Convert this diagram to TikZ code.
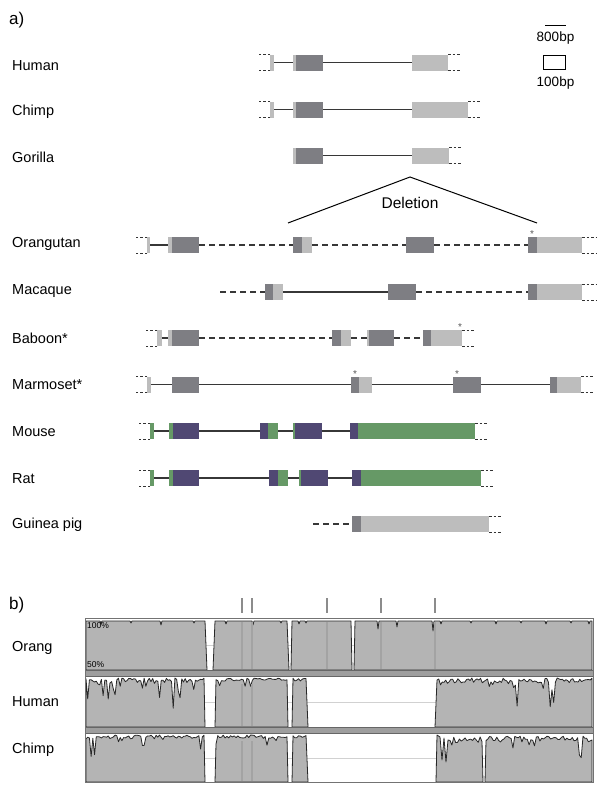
\documentclass[tikz,border=0pt]{standalone}
\usepackage{fontspec}
\setmainfont{Liberation Sans}
\definecolor{exdark}{RGB}{126,126,131}
\definecolor{exlight}{RGB}{189,189,189}
\definecolor{expurple}{RGB}{80,72,115}
\definecolor{exgreen}{RGB}{102,153,102}
\definecolor{introncol}{RGB}{55,55,55}
\definecolor{trkfill}{RGB}{180,180,180}
\definecolor{trkline}{RGB}{40,40,40}
\newcommand\ex[5]{\node[#1,minimum width={(#4)-(#3)}] (#2) at (#3,#5) {};}
\newcommand\trL[2]{\draw[trunc] (#1.north west) -- ++(-#2,0); \draw[trunc] (#1.south west) -- ++(-#2,0);}
\newcommand\trR[2]{\draw[trunc] (#1.north east) -- ++(#2,0); \draw[trunc] (#1.south east) -- ++(#2,0);}
\begin{document}
\begin{tikzpicture}[x=1pt,y=-1pt,
 exon/.style={rectangle,inner sep=0pt,outer sep=0pt,anchor=west,minimum height=16pt,draw=none},
 dk/.style={exon,fill=exdark},
 lt/.style={exon,fill=exlight},
 pu/.style={exon,fill=expurple},
 gr/.style={exon,fill=exgreen},
 intron/.style={draw=introncol,line width=1.3pt},
 gapline/.style={intron,dash pattern=on 6pt off 4pt},
 trunc/.style={draw=black!80,line width=1pt,dash pattern=on 2.5pt off 2pt},
 lab/.style={anchor=west,font=\fontsize{14.5}{17}\selectfont,inner sep=0pt},
 smalltxt/.style={font=\fontsize{13.5}{16}\selectfont,inner sep=0pt},
 star/.style={font=\fontsize{10}{10}\selectfont,inner sep=0pt,text=black!65},
 trk/.style={fill=trkfill,draw=trkline,line width=0.8pt,line join=round},
 sep/.style={fill=black!38,draw=black!60,line width=0.8pt},
 tick/.style={draw=black!45,line width=2pt},
 vln/.style={draw=black!36,line width=1.4pt},
 gridl/.style={draw=black!18,line width=0.8pt}]
\useasboundingbox (0,0) rectangle (600,790);
\fill[white] (0,0) rectangle (600,790);

% panel labels
\node[anchor=west,font=\fontsize{17}{20}\selectfont,inner sep=0pt] (pa) at (9,20) {a)};
\node[anchor=west,font=\fontsize{17}{20}\selectfont,inner sep=0pt] (pb) at (9,605) {b)};

% scale
\coordinate (sb1) at (545,25); \coordinate (sb2) at (566,25);
\draw[line width=1pt] (sb1) -- (sb2);
\node[smalltxt] (s800) at (555.5,38) {800bp};
\node[draw,line width=0.9pt,minimum width=22pt,minimum height=14pt,inner sep=0pt] (sq) at (554.5,62) {};
\node[smalltxt] (s100) at (555.5,83) {100bp};

% row labels
\node[lab] (lHuman) at (12,66) {Human};
\node[lab] (lChimp) at (12,112) {Chimp};
\node[lab] (lGor) at (12,157) {Gorilla};
\node[lab] (lOr) at (12,244) {Orangutan};
\node[lab] (lMac) at (12,291) {Macaque};
\node[lab] (lBab) at (12,338) {Baboon*};
\node[lab] (lMar) at (12,385) {Marmoset*};
\node[lab] (lMou) at (12,432) {Mouse};
\node[lab] (lRat) at (12,479) {Rat};
\node[lab] (lGp) at (12,525) {Guinea pig};

% Human
\ex{lt}{h1}{270}{274}{62.5}
\ex{lt}{h2}{293}{296}{62.5}
\ex{dk}{h3}{296}{323}{62.5}
\ex{lt}{h4}{412}{448}{62.5}
\draw[intron] (h1.east) -- (h2.west);
\draw[intron] (h3.east) -- (h4.west);
\trL{h1}{13} \trR{h4}{13}

% Chimp
\ex{lt}{c1}{270}{274}{109.5}
\ex{lt}{c2}{293}{296}{109.5}
\ex{dk}{c3}{296}{323}{109.5}
\ex{lt}{c4}{412}{468}{109.5}
\draw[intron] (c1.east) -- (c2.west);
\draw[intron] (c3.east) -- (c4.west);
\trL{c1}{13} \trR{c4}{12}

% Gorilla
\ex{lt}{g1}{293}{296}{155.5}
\ex{dk}{g2}{296}{323}{155.5}
\ex{lt}{g3}{412}{449}{155.5}
\draw[intron] (g2.east) -- (g3.west);
\trR{g3}{13}

% Deletion
\coordinate (dApex) at (410,177);
\coordinate (dL) at (288,223);
\coordinate (dR) at (537,223);
\draw[line width=1pt] (dL) -- (dApex) -- (dR);
\node[font=\fontsize{15.5}{18}\selectfont,inner sep=0pt] (deltxt) at (410,203) {Deletion};

% Orangutan
\ex{lt}{o1}{147}{150}{245}
\ex{lt}{o2}{168}{172}{245}
\ex{dk}{o3}{172}{199}{245}
\ex{dk}{o4}{293}{302}{245}
\ex{lt}{o5}{302}{312}{245}
\ex{dk}{o6}{406}{434}{245}
\ex{dk}{o7}{528}{537}{245}
\ex{lt}{o8}{537}{582}{245}
\draw[intron] (o1.east) -- (o2.west);
\draw[gapline] (o3.east) -- (o4.west);
\draw[gapline] (o5.east) -- (o6.west);
\draw[gapline] (o6.east) -- (o7.west);
\trL{o1}{13} \trR{o8}{14}
\node[star] (oS) at (532,234) {*};

% Macaque
\coordinate (mq0) at (220,292);
\ex{dk}{m1}{265}{273}{292}
\ex{lt}{m2}{273}{283}{292}
\ex{dk}{m3}{388}{416}{292}
\ex{dk}{m4}{528}{537}{292}
\ex{lt}{m5}{537}{582}{292}
\draw[gapline] (mq0) -- (m1.west);
\draw[intron] (m2.east) -- (m3.west);
\draw[gapline] (m3.east) -- (m4.west);
\trR{m5}{14}

% Baboon
\ex{lt}{b1}{157}{162}{338}
\ex{lt}{b2}{168}{172}{338}
\ex{dk}{b3}{172}{199}{338}
\ex{dk}{b4}{332}{341}{338}
\ex{lt}{b5}{341}{351}{338}
\ex{lt}{b6}{367}{369}{338}
\ex{dk}{b7}{369}{394}{338}
\ex{dk}{b8}{423}{431}{338}
\ex{lt}{b9}{431}{462}{338}
\draw[intron] (b1.east) -- (b2.west);
\draw[gapline] (b3.east) -- (b4.west);
\draw[gapline] (b5.east) -- (b6.west);
\draw[gapline] (b7.east) -- (b8.west);
\trL{b1}{12} \trR{b9}{12}
\node[star] (bS) at (460,327) {*};

% Marmoset
\ex{lt}{k1}{147}{151}{384.5}
\ex{dk}{k2}{172}{199}{384.5}
\ex{dk}{k3}{351}{359}{384.5}
\ex{lt}{k4}{359}{372}{384.5}
\ex{dk}{k5}{453}{481}{384.5}
\ex{dk}{k6}{550}{557}{384.5}
\ex{lt}{k7}{557}{581}{384.5}
\draw[intron] (k1.east) -- (k2.west);
\draw[intron] (k2.east) -- (k3.west);
\draw[intron] (k4.east) -- (k5.west);
\draw[intron] (k5.east) -- (k6.west);
\trL{k1}{13} \trR{k7}{13}
\node[star] (kS1) at (355,374) {*};
\node[star] (kS2) at (457,374) {*};

% Mouse
\ex{gr}{u1}{150}{154}{431}
\ex{gr}{u2}{169}{173}{431}
\ex{pu}{u3}{173}{199}{431}
\ex{pu}{u4}{260}{268}{431}
\ex{gr}{u5}{268}{278}{431}
\ex{gr}{u6}{293}{295}{431}
\ex{pu}{u7}{295}{322}{431}
\ex{pu}{u8}{350}{358}{431}
\ex{gr}{u9}{358}{475}{431}
\draw[intron] (u1.east) -- (u2.west);
\draw[intron] (u3.east) -- (u4.west);
\draw[intron] (u5.east) -- (u6.west);
\draw[intron] (u7.east) -- (u8.west);
\trL{u1}{12} \trR{u9}{13}

% Rat
\ex{gr}{r1}{150}{154}{478}
\ex{gr}{r2}{169}{173}{478}
\ex{pu}{r3}{173}{199}{478}
\ex{pu}{r4}{269}{278}{478}
\ex{gr}{r5}{278}{288}{478}
\ex{gr}{r6}{299}{301}{478}
\ex{pu}{r7}{301}{328}{478}
\ex{pu}{r8}{352}{361}{478}
\ex{gr}{r9}{361}{481}{478}
\draw[intron] (r1.east) -- (r2.west);
\draw[intron] (r3.east) -- (r4.west);
\draw[intron] (r5.east) -- (r6.west);
\draw[intron] (r7.east) -- (r8.west);
\trL{r1}{12} \trR{r9}{13}

% Guinea pig
\coordinate (gp0) at (313,524);
\ex{dk}{p1}{352}{361}{524}
\ex{lt}{p2}{361}{489}{524}
\draw[gapline] (gp0) -- (p1.west);
\trR{p2}{13}

% ---------- panel b ----------
\foreach \tx in {242,252,327,381,435} \draw[tick] (\tx,598) -- (\tx,613);

\node[lab] (bOr) at (12,648) {Orang};
\node[lab] (bHu) at (12,702) {Human};
\node[lab] (bCh) at (12,750) {Chimp};

% midlines
\foreach \m in {645,702,758} \draw[gridl] (86,\m) -- (592,\m);

% Orang track
\filldraw[trk] (86,670) -- (86,621) -- (100,621) -- (101,624) -- (102,621) -- (130,621) -- (131,623) -- (132,621) -- (160,621) -- (161,625) -- (162,621) -- (193,621) -- (194,623) -- (195,621) -- (205,621) -- (207,670) -- cycle;
\filldraw[trk] (213,670) -- (215,621) -- (225,621) -- (226,624) -- (227,621) -- (252,621) -- (253,625) -- (254,621) -- (280,621) -- (281,623) -- (282,621) -- (287,621) -- (289,670) -- cycle;
\filldraw[trk] (291,670) -- (292,621) -- (298,621) -- (299,624) -- (300,621) -- (305,621) -- (306,623) -- (307,621) -- (351,621) -- (352,670) -- cycle;
\filldraw[trk] (354,670) -- (355,621) -- (377,621) -- (378,629) -- (379,621) -- (396,621) -- (397,627) -- (398,621) -- (432,621) -- (433,631) -- (434,621) -- (440,621) -- (441,624) -- (442,621) -- (470,621) -- (471,623) -- (472,621) -- (495,621) -- (496,624) -- (497,621) -- (520,621) -- (521,623) -- (522,621) -- (545,621) -- (546,624) -- (547,621) -- (570,621) -- (571,623) -- (572,621) -- (588,621) -- (589,624) -- (590,621) -- (592,621) -- (592,670) -- cycle;
\foreach \vx in {242,252,327,381,435} \draw[vln] (\vx,622) -- (\vx,669);
\node[anchor=north west,font=\fontsize{8.5}{9}\selectfont,inner sep=0pt] (p100) at (87,622) {100\%};
\node[anchor=south west,font=\fontsize{8.5}{9}\selectfont,inner sep=0pt] (p50) at (87,668) {50\%};

% Human track
\pgfmathsetseed{7}
\filldraw[trk] (86,727) -- plot[domain=86:204,samples=70] (\x,{678+5*rnd+30*rnd^14}) -- (205,727) -- cycle;
\filldraw[trk] (215,727) -- plot[domain=216:287,samples=40] (\x,{678+3*rnd+12*rnd^14}) -- (288,727) -- cycle;
\filldraw[trk] (292,727) -- plot[domain=293:306,samples=8] (\x,{678+3*rnd}) -- (308,727) -- cycle;
\filldraw[trk] (435,727) -- plot[domain=437:592,samples=90] (\x,{678+5*rnd+26*rnd^14}) -- (592,727) -- cycle;
\foreach \vx in {242,252} \draw[vln] (\vx,684) -- (\vx,726);

% Chimp track
\pgfmathsetseed{23}
\filldraw[trk] (86,782) -- plot[domain=86:204,samples=70] (\x,{735+4*rnd+22*rnd^16}) -- (205,782) -- cycle;
\filldraw[trk] (215,782) -- plot[domain=216:287,samples=40] (\x,{735+3*rnd+10*rnd^14}) -- (288,782) -- cycle;
\filldraw[trk] (292,782) -- plot[domain=293:306,samples=8] (\x,{735+3*rnd}) -- (308,782) -- cycle;
\filldraw[trk] (436,782) -- (437,735) -- (440,737) -- (442,760) -- (444,738) -- (446,762) -- (448,740) -- plot[domain=450:482,samples=18] (\x,{737+4*rnd+10*rnd^12}) -- (483,782) -- cycle;
\filldraw[trk] (485,782) -- plot[domain=486:592,samples=60] (\x,{736+5*rnd+20*rnd^14}) -- (592,782) -- cycle;
\foreach \vx in {242,252} \draw[vln] (\vx,741) -- (\vx,781);

% separators and frame
\filldraw[sep] (85,670) rectangle (593,676);
\filldraw[sep] (85,727) rectangle (593,733);
\draw[black!55,line width=1pt] (85,618) rectangle (593,782);
\end{tikzpicture}
\end{document}
